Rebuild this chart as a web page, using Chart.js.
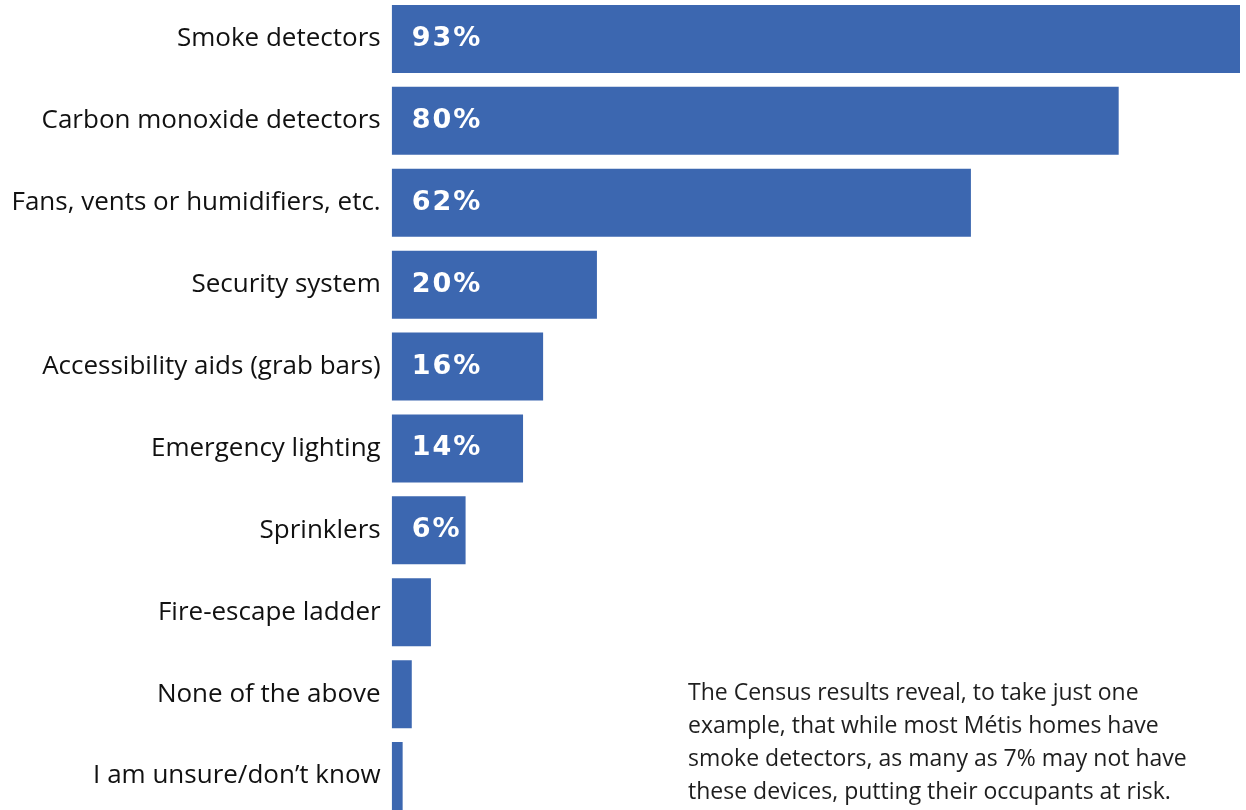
<!DOCTYPE html>
<html>
<head>
<meta charset="utf-8">
<script src="https://cdn.jsdelivr.net/npm/chart.js@4.4.1/dist/chart.umd.min.js"></script>
<style>
  html, body { margin: 0; padding: 0; background: #fff; overflow: hidden; }
  body { width: 1246px; height: 810px; position: relative; }
  #wrap { position: absolute; left: 0; top: -2px; width: 1246px; height: 819px; }
  #note {
    position: absolute; left: 688px; top: 675px; width: 560px;
    font-family: 'Open Sans', sans-serif; font-size: 23px; line-height: 33px; color: #1e1e1e;
  }
</style>
</head>
<body>
<div id="wrap"><canvas id="chart"></canvas></div>
<div id="note">The Census results reveal, to take just one<br>example, that while most Métis homes have<br>smoke detectors, as many as 7% may not have<br>these devices, putting their occupants at risk.</div>
<script>
const categories = [
    'Smoke detectors',
    'Carbon monoxide detectors',
    'Fans, vents or humidifiers, etc.',
    'Security system',
    'Accessibility aids (grab bars)',
    'Emergency lighting',
    'Sprinklers',
    'Fire-escape ladder',
    'None of the above',
    'I am unsure/don\u2019t know'
];

// bar lengths
const values = [93, 79.7, 63.5, 22.5, 16.6, 14.4, 8.1, 4.3, 2.2, 1.2];

// printed labels inside the bars
const valueLabels = ['93%', '80%', '62%', '20%', '16%', '14%', '6%', '', '', ''];

const barColor = '#3c67b0';

const insideLabels = {
    id: 'insideLabels',
    afterDatasetsDraw(chart) {
        const ctx = chart.ctx;
        const meta = chart.getDatasetMeta(0);
        ctx.save();
        ctx.fillStyle = '#fff';
        ctx.font = 'bold 27px "DejaVu Sans", sans-serif';
        ctx.letterSpacing = '2px';
        ctx.textAlign = 'left';
        ctx.textBaseline = 'middle';
        meta.data.forEach((bar, i) => {
            if (!valueLabels[i]) return;
            ctx.fillText(valueLabels[i], bar.base + 20, bar.y);
        });
        ctx.restore();
    }
};

new Chart(document.getElementById('chart'), {
    type: 'bar',
    data: {
        labels: categories,
        datasets: [{
            data: values,
            backgroundColor: barColor,
            borderWidth: 0,
            barPercentage: 0.83,
            categoryPercentage: 1
        }]
    },
    options: {
        indexAxis: 'y',
        responsive: true,
        maintainAspectRatio: false,
        animation: false,
        layout: { padding: { left: 0, right: 6, top: 0, bottom: 0 } },
        plugins: { legend: { display: false }, tooltip: { enabled: false } },
        scales: {
            x: { display: false, min: 0, max: 93 },
            y: {
                grid: { display: false, drawTicks: false },
                border: { display: false },
                ticks: {
                    color: '#111',
                    padding: 11,
                    font: { family: "'Open Sans', sans-serif", size: 26 }
                },
                afterFit(scale) {
                    scale.width = 391.7;
                    scale.paddingTop = 0;
                    scale.paddingBottom = 0;
                }
            }
        }
    },
    plugins: [insideLabels]
});
</script>
</body>
</html>
